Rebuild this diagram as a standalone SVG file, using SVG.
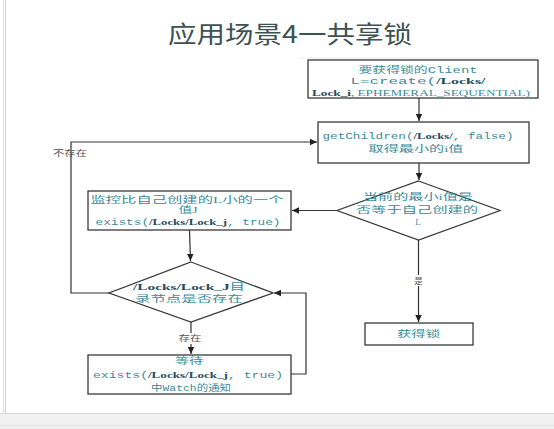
<svg xmlns="http://www.w3.org/2000/svg" width="554" height="429" viewBox="0 0 554 429">
<style>
.bg{fill:#ffffff}
.node{fill:#ffffff;stroke:#3a3a3a;stroke-width:1.3}
.edge{fill:none;stroke:#333333;stroke-width:1.2}
.t{font-family:"Liberation Serif","Noto Sans CJK SC",serif;font-size:9px;fill:#3a8c9c;text-anchor:middle}
.m{font-family:"Liberation Mono","Noto Sans CJK SC",monospace}
.b{font-weight:bold;fill:#264c5c}
.lbl{font-family:"Noto Sans CJK SC",sans-serif;font-size:8.5px;fill:#555555;text-anchor:middle}
.title{font-family:"Noto Sans CJK SC",serif;font-size:24px;fill:#3d5252;text-anchor:middle}
</style>
<defs>
<marker id="ah" markerWidth="8" markerHeight="8" refX="7" refY="4" orient="auto" markerUnits="userSpaceOnUse">
<path d="M0,0.8 L7,4 L0,7.2 Z" fill="#222222"/>
</marker>
</defs>
<rect class="bg" x="0" y="0" width="554" height="429"/>
<rect x="0" y="414" width="554" height="15" fill="#f0f0f0"/>
<line x1="0" y1="413.5" x2="554" y2="413.5" stroke="#d8d8d8" stroke-width="1"/>
<line x1="0" y1="425.5" x2="554" y2="425.5" stroke="#e4e4e4" stroke-width="1"/>
<line x1="3.5" y1="0" x2="3.5" y2="414" stroke="#e0e0e0" stroke-width="1"/>
<line x1="5.5" y1="0" x2="5.5" y2="414" stroke="#d4d4d4" stroke-width="1"/>
<line x1="300" y1="58" x2="540" y2="58" stroke="#ececec" stroke-width="1"/>
<text class="title" x="290" y="43" textLength="244" lengthAdjust="spacingAndGlyphs">应用场景4一共享锁</text>
<g id="connectors">
<line class="edge" x1="419" y1="98" x2="419" y2="121" marker-end="url(#ah)"/>
<line class="edge" x1="419" y1="163" x2="419" y2="180" marker-end="url(#ah)"/>
<line class="edge" x1="337" y1="210.5" x2="292" y2="210.5" marker-end="url(#ah)"/>
<line class="edge" x1="418.5" y1="240" x2="418.5" y2="322" marker-end="url(#ah)"/>
<line class="edge" x1="189.5" y1="230" x2="190.5" y2="261" marker-end="url(#ah)"/>
<line class="edge" x1="191" y1="322" x2="191" y2="354" marker-end="url(#ah)"/>
<polyline class="edge" points="291,374 306,374 306,293 274,293" marker-end="url(#ah)"/>
<polyline class="edge" points="109,293 71,293 71,142 317,142" marker-end="url(#ah)"/>
<rect x="411" y="275" width="15" height="11" fill="#ffffff"/>
<text class="lbl" x="418.5" y="284">是</text>
<rect x="178" y="333" width="24" height="11" fill="#ffffff"/>
<text class="lbl" x="190" y="341" textLength="23" lengthAdjust="spacingAndGlyphs">存在</text>
<text class="lbl" x="70" y="156" textLength="34" lengthAdjust="spacingAndGlyphs">不存在</text>
</g>
<g id="n1">
<rect class="node" x="308" y="60" width="230" height="38"/>
<text class="t" x="418" y="73" textLength="119" lengthAdjust="spacingAndGlyphs">要获得锁的<tspan class="m">Client</tspan></text>
<text class="t" x="418" y="84" textLength="135" lengthAdjust="spacingAndGlyphs"><tspan class="m">L=create(</tspan><tspan class="b">/Locks/</tspan></text>
<text class="t" x="421" y="96" textLength="218" lengthAdjust="spacingAndGlyphs"><tspan class="b">Lock_i</tspan>, EPHEMERAL_SEQUENTIAL)</text>
</g>
<g id="n2">
<rect class="node" x="318" y="122" width="211" height="41"/>
<text class="t" x="418" y="139" textLength="191" lengthAdjust="spacingAndGlyphs"><tspan class="m">getChildren(</tspan><tspan class="b">/Locks/</tspan><tspan class="m">, false)</tspan></text>
<text class="t" x="416" y="152" textLength="95" lengthAdjust="spacingAndGlyphs">取得最小的i值</text>
</g>
<g id="n3">
<polygon class="node" points="418.5,181 500,210.5 418.5,240 337,210.5"/>
<text class="t" x="418" y="200" textLength="110" lengthAdjust="spacingAndGlyphs">当前的最小i值是</text>
<text class="t" x="417" y="213" textLength="122" lengthAdjust="spacingAndGlyphs">否等于自己创建的</text>
<text class="t" x="418" y="225">L</text>
</g>
<g id="n4">
<rect class="node" x="88" y="191" width="203" height="39"/>
<text class="t" x="187" y="203" textLength="193" lengthAdjust="spacingAndGlyphs">监控比自己创建的L小的一个</text>
<text class="t" x="188" y="213" textLength="19" lengthAdjust="spacingAndGlyphs">值J</text>
<text class="t" x="188" y="225" textLength="185" lengthAdjust="spacingAndGlyphs"><tspan class="m">exists(</tspan><tspan class="b">/Locks/Lock_j</tspan><tspan class="m">, true)</tspan></text>
</g>
<g id="n5">
<polygon class="node" points="191,262 273,293 191,322 109,293"/>
<text class="t" x="189" y="290" textLength="112" lengthAdjust="spacingAndGlyphs"><tspan class="b">/Locks/Lock_J</tspan>目</text>
<text class="t" x="189" y="302" textLength="108" lengthAdjust="spacingAndGlyphs">录节点是否存在</text>
</g>
<g id="n6">
<rect class="node" x="365" y="323" width="108" height="22"/>
<text class="t" x="418.5" y="337" textLength="43" lengthAdjust="spacingAndGlyphs">获得锁</text>
</g>
<g id="n7">
<rect class="node" x="88" y="355" width="203" height="39"/>
<text class="t" x="189" y="364" textLength="28" lengthAdjust="spacingAndGlyphs">等待</text>
<text class="t" x="188" y="378" textLength="190" lengthAdjust="spacingAndGlyphs"><tspan class="m">exists(</tspan><tspan class="b">/Locks/Lock_j</tspan><tspan class="m">, true)</tspan></text>
<text class="t" x="191" y="391" textLength="80" lengthAdjust="spacingAndGlyphs">中<tspan class="m">Watch</tspan>的通知</text>
</g>
</svg>
